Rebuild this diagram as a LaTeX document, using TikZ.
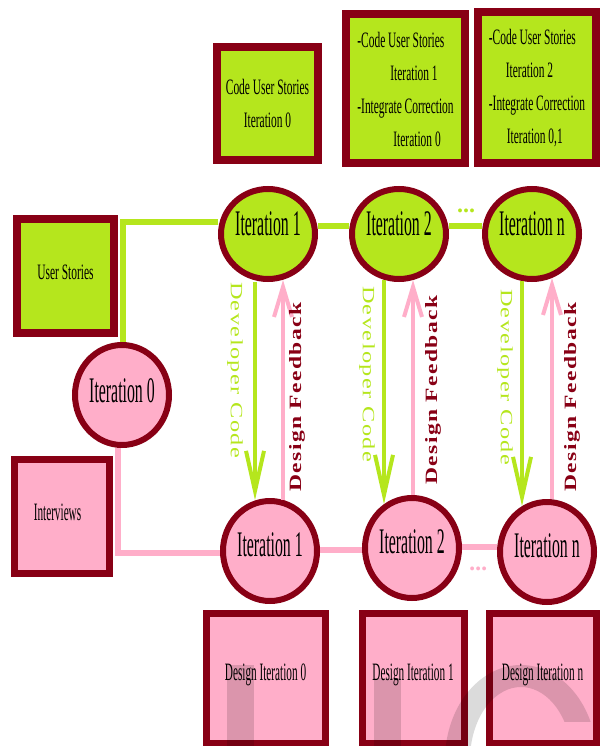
\documentclass[tikz,border=0pt]{standalone}
\usepackage{fontspec}
\setmainfont{Liberation Serif}
\newfontfamily\fcirc[FakeStretch=0.44]{Liberation Serif}
\newfontfamily\ftop[FakeStretch=0.52]{Liberation Serif}
\newfontfamily\fbot[FakeStretch=0.45]{Liberation Serif}
\usetikzlibrary{shapes.geometric,arrows.meta,backgrounds,calc}
\definecolor{mylime}{HTML}{B5E61D}
\definecolor{mymaroon}{HTML}{880015}
\definecolor{mypink}{HTML}{FFAEC9}
\tikzset{
  circ/.style={ellipse, draw=mymaroon, line width=6pt, inner sep=0pt, font=\fcirc\fontsize{36}{40}\selectfont},
  gcirc/.style={circ, fill=mylime, minimum width=94pt, minimum height=90pt},
  pcirc/.style={circ, fill=mypink, minimum width=94pt, minimum height=100pt},
  gbox/.style={rectangle, draw=mymaroon, line width=8pt, fill=mylime, inner sep=0pt},
  pbox/.style={rectangle, draw=mymaroon, line width=7pt, fill=mypink, inner sep=0pt, font=\fbot\fontsize{25}{28}\selectfont},
  topfont/.style={font=\ftop\fontsize{22}{33}\selectfont},
  gline/.style={mylime, line width=6pt},
  pline/.style={mypink, line width=6pt},
  garrow/.style={mylime, line width=4pt, -{Straight Barb[length=40pt,width=18pt]}},
  parrow/.style={mypink, line width=4pt, -{Straight Barb[length=30pt,width=18pt]}},
  devlabel/.style={rotate=-90, text=mylime, inner sep=0pt},
  feedlabel/.style={rotate=90, text=mymaroon, inner sep=0pt, font=\bfseries},
  wmark/.style={fill=black, opacity=0.14}
}
\newcommand\devtext{\resizebox{176pt}{12pt}{\addfontfeature{LetterSpace=6}Developer Code}}
\newcommand\feedtext{\resizebox{189pt}{12pt}{\addfontfeature{LetterSpace=6}Design Feedback}}
\begin{document}
\begin{tikzpicture}[x=1pt, y=-1pt]
\useasboundingbox (0,0) rectangle (599,746);

% top boxes
\node[gbox, topfont, align=center, minimum width=101pt, minimum height=113pt] (tb0) at (267.5,103.5) {Code User Stories\\Iteration 0};
\node[gbox, topfont, align=left, minimum width=119pt, minimum height=149pt] (tb1) at (405.5,89) {-Code User Stories\\\hspace*{33pt}Iteration 1\\-Integrate Correction\\\hspace*{36pt}Iteration 0};
\node[gbox, topfont, align=left, minimum width=118pt, minimum height=151pt] (tb2) at (537,88) {-Code User Stories\\\hspace*{17pt}Iteration 2\\-Integrate Correction\\\hspace*{18pt}Iteration 0,1};

% side boxes
\node[gbox, font=\ftop\fontsize{22}{26}\selectfont, minimum width=97pt, minimum height=114pt] (us) at (65.5,276) {\raisebox{-3pt}[0pt][0pt]{User Stories}};
\node[pbox, minimum width=95pt, minimum height=114pt] (iv) at (61.5,516) {\hspace*{-8pt}\raisebox{-4pt}[0pt][0pt]{Interviews}};

% design boxes
\node[pbox, minimum width=119pt, minimum height=130pt] (db0) at (265.5,678) {\raisebox{-2.5pt}[0pt][0pt]{Design Iteration 0}};
\node[pbox, minimum width=102pt, minimum height=130pt] (db1) at (413,678) {\raisebox{-2.5pt}[0pt][0pt]{Design Iteration 1}};
\node[pbox, minimum width=107pt, minimum height=130pt] (dbn) at (542.5,678) {\raisebox{-2.5pt}[0pt][0pt]{Design Iteration n}};

% circles
\node[gcirc] (t1) at (268,234) {\raisebox{-1pt}[0pt][0pt]{Iteration 1}};
\node[gcirc] (t2) at (399,234) {\raisebox{-1pt}[0pt][0pt]{Iteration 2}};
\node[gcirc] (tn) at (532,234) {\raisebox{-1pt}[0pt][0pt]{Iteration n}};
\node[pcirc] (it0) at (122,395) {\raisebox{-7pt}[0pt][0pt]{Iteration 0}};
\node[pcirc] (b1) at (270,551) {\raisebox{-5pt}[0pt][0pt]{Iteration 1}};
\node[pcirc] (b2) at (412,548) {\raisebox{-5pt}[0pt][0pt]{Iteration 2}};
\node[pcirc] (bn) at (547,552) {\raisebox{-5pt}[0pt][0pt]{Iteration n}};

\begin{pgfonlayer}{background}
  \draw[gline] ([xshift=1pt]it0.north) |- ([yshift=12pt]t1.west);
  \draw[gline] ([yshift=8pt]t1.east) -- ([yshift=8pt]t2.west);
  \draw[gline] ([yshift=8pt]t2.east) -- ([yshift=8pt]tn.west);
  \draw[pline] ([xshift=-4pt]it0.south) |- ([yshift=-2pt]b1.west);
  \draw[pline] ([yshift=1pt]b1.east) -- ([yshift=-2pt]b2.west);
  \draw[pline] ([yshift=1pt]b2.east) -- ([yshift=5pt]bn.west);
\end{pgfonlayer}

% dots
\node[text=mylime, font=\fontsize{24}{24}\selectfont\bfseries, inner sep=0pt] (gdots) at (466,211) {...};
\node[text=mypink, font=\fontsize{24}{24}\selectfont\bfseries\itshape, inner sep=0pt] (pdots) at (479,569) {...};

% vertical arrows
\draw[garrow] ([xshift=-13pt]t1.south) -- ([xshift=-15pt,yshift=-2pt]b1.north);
\draw[parrow] ([xshift=13pt,yshift=-2pt]b1.north) -- ([xshift=15pt,yshift=2pt]t1.south);
\draw[garrow] ([xshift=-15pt,yshift=2pt]t2.south) -- ([xshift=-28pt,yshift=-9pt]b2.north);
\draw[parrow] ([xshift=1pt]b2.north) -- ([xshift=14pt,yshift=2pt]t2.south);
\draw[garrow] ([xshift=-10pt,yshift=1pt]tn.south) -- ([xshift=-25pt,yshift=-7pt]bn.north);
\draw[parrow] ([xshift=5pt]bn.north) -- ([xshift=20pt,yshift=4pt]tn.south);

% arrow labels
\node[devlabel] (dc1) at (235,370) {\devtext};
\node[devlabel] (dc2) at (367,374) {\devtext};
\node[devlabel] (dcn) at (505,377) {\devtext};
\node[feedlabel] (df1) at (297,397) {\feedtext};
\node[feedlabel] (df2) at (433,390) {\feedtext};
\node[feedlabel] (dfn) at (572,397) {\feedtext};

% watermark
\fill[wmark] (227,665) rectangle (254,750);
\fill[wmark] (374,678) rectangle (401,750);
\fill[wmark] ($(521,760)+(23.6:76pt and 95pt)$) arc[start angle=23.6, end angle=200, x radius=76pt, y radius=95pt]
  -- ($(521,760)+(200:51pt and 73pt)$) arc[start angle=200, end angle=31.4, x radius=51pt, y radius=73pt] -- cycle;
\end{tikzpicture}
\end{document}
